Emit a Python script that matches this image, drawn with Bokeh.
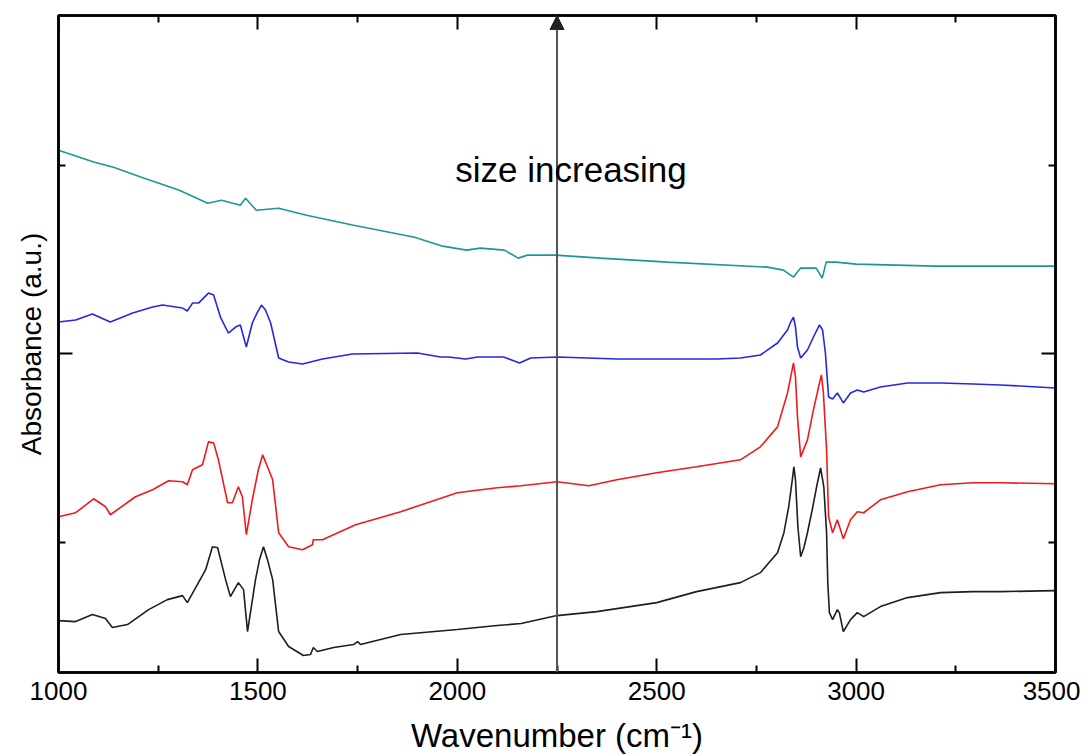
from bokeh.plotting import figure
from bokeh.models import Range1d, FixedTicker, LinearAxis, Arrow, NormalHead, CustomJSTickFormatter, Label
from bokeh.embed import file_html
from bokeh.resources import INLINE

# ---- data (wavenumber in cm^-1, absorbance in arbitrary units, offsets included) ----
wn_black = [1000, 1043, 1085, 1118, 1135, 1173, 1226, 1273, 1311, 1323, 1344, 1369, 1386, 1399, 1419,
            1431, 1451, 1464, 1474, 1494, 1504, 1514, 1524, 1537, 1552, 1577, 1614, 1632, 1639, 1649,
            1690, 1740, 1750, 1757, 1858, 2000, 2100, 2160, 2250, 2350, 2500, 2600, 2710, 2760, 2803,
            2819, 2831, 2840, 2844, 2848, 2854, 2861, 2869, 2878, 2890, 2901, 2911, 2919, 2926, 2929,
            2933, 2941, 2953, 2958, 2968, 2986, 3003, 3019, 3061, 3129, 3212, 3294, 3362, 3500]
abs_black = [0.52, 0.51, 0.58, 0.54, 0.45, 0.48, 0.63, 0.73, 0.77, 0.70, 0.85, 1.03, 1.26, 1.25, 0.93,
             0.76, 0.90, 0.83, 0.41, 0.93, 1.13, 1.26, 1.13, 0.93, 0.41, 0.26, 0.17, 0.18, 0.25, 0.21,
             0.25, 0.28, 0.31, 0.28, 0.38, 0.43, 0.47, 0.49, 0.57, 0.61, 0.70, 0.81, 0.90, 1.00, 1.20,
             1.40, 1.66, 1.93, 2.06, 1.93, 1.46, 1.16, 1.25, 1.40, 1.63, 1.86, 2.05, 1.86, 1.40, 0.90,
             0.60, 0.53, 0.63, 0.60, 0.41, 0.53, 0.60, 0.56, 0.66, 0.75, 0.80, 0.81, 0.81, 0.82]

wn_red = [1000, 1043, 1088, 1118, 1130, 1193, 1236, 1276, 1311, 1323, 1336, 1361, 1376, 1389, 1401,
          1424, 1436, 1451, 1461, 1471, 1486, 1501, 1512, 1524, 1537, 1552, 1577, 1612, 1637, 1639,
          1662, 1745, 1858, 2000, 2100, 2160, 2250, 2330, 2400, 2500, 2600, 2710, 2760, 2803, 2828,
          2836, 2843, 2848, 2853, 2861, 2878, 2893, 2906, 2913, 2918, 2926, 2931, 2941, 2953, 2968,
          2986, 3003, 3019, 3061, 3129, 3212, 3294, 3362, 3500]
abs_red = [1.56, 1.60, 1.74, 1.66, 1.58, 1.76, 1.83, 1.92, 1.91, 1.88, 2.03, 2.08, 2.31, 2.30, 2.13,
           1.70, 1.70, 1.86, 1.76, 1.38, 1.73, 2.03, 2.18, 2.06, 1.93, 1.40, 1.26, 1.23, 1.28, 1.33,
           1.33, 1.48, 1.61, 1.80, 1.85, 1.87, 1.91, 1.87, 1.93, 2.00, 2.06, 2.13, 2.26, 2.46, 2.80,
           2.96, 3.10, 2.96, 2.56, 2.16, 2.33, 2.63, 2.86, 2.98, 2.80, 2.23, 1.56, 1.40, 1.53, 1.34,
           1.53, 1.61, 1.60, 1.73, 1.81, 1.88, 1.90, 1.90, 1.89]

wn_blue = [1000, 1043, 1085, 1113, 1130, 1186, 1236, 1261, 1311, 1323, 1336, 1351, 1376, 1389, 1406,
           1426, 1444, 1456, 1471, 1486, 1499, 1509, 1519, 1532, 1552, 1577, 1612, 1662, 1737, 1900,
           1958, 1978, 2021, 2051, 2116, 2156, 2184, 2251, 2326, 2402, 2652, 2710, 2760, 2803, 2828,
           2836, 2843, 2848, 2853, 2861, 2878, 2893, 2908, 2916, 2923, 2931, 2941, 2953, 2968, 2986,
           3003, 3019, 3061, 3129, 3212, 3294, 3362, 3500]
abs_blue = [3.51, 3.53, 3.59, 3.54, 3.51, 3.60, 3.66, 3.68, 3.65, 3.62, 3.70, 3.70, 3.80, 3.78, 3.56,
            3.40, 3.46, 3.48, 3.26, 3.50, 3.61, 3.68, 3.63, 3.50, 3.15, 3.11, 3.09, 3.14, 3.19, 3.20,
            3.16, 3.16, 3.14, 3.16, 3.16, 3.10, 3.15, 3.16, 3.15, 3.14, 3.14, 3.15, 3.18, 3.30, 3.43,
            3.51, 3.56, 3.46, 3.26, 3.15, 3.23, 3.36, 3.48, 3.43, 3.20, 2.76, 2.74, 2.80, 2.70, 2.80,
            2.83, 2.81, 2.86, 2.90, 2.90, 2.89, 2.88, 2.85]

wn_teal = [1000, 1090, 1138, 1208, 1303, 1374, 1409, 1456, 1469, 1496, 1552, 1622, 1740, 1893, 1963,
           2023, 2058, 2118, 2153, 2176, 2246, 2359, 2527, 2778, 2818, 2843, 2861, 2900, 2915, 2925,
           2950, 3000, 3200, 3500]
abs_teal = [5.23, 5.11, 5.06, 4.96, 4.83, 4.70, 4.73, 4.68, 4.75, 4.63, 4.65, 4.58, 4.48, 4.36, 4.27,
            4.23, 4.25, 4.23, 4.15, 4.18, 4.18, 4.15, 4.11, 4.06, 4.03, 3.96, 4.05, 4.05, 3.95, 4.11,
            4.11, 4.09, 4.07, 4.07]

x_major = [1000, 1500, 2000, 2500, 3000, 3500]
x_minor = [1250, 1750, 2250, 2750, 3250]
y_major = [3.19]
y_minor = [1.30, 5.08]
x_limits = (1000, 3500)
y_limits = (0, 6.58)
arrow_x = 2250
note_text = "size increasing"
note_x, note_y = 1995, 5.04

FONT = "Liberation Sans"

p = figure(width=1080, height=756, x_range=Range1d(*x_limits), y_range=Range1d(*y_limits),
           output_backend="svg", toolbar_location=None,
           min_border_left=58, min_border_right=25, min_border_top=15, min_border_bottom=83)
p.grid.visible = False
p.background_fill_color = "white"
p.border_fill_color = "white"
p.outline_line_color = "black"
p.outline_line_width = 2.5

empty = CustomJSTickFormatter(code="return ''")

def style_axis(ax, ticks, minor, labels=True):
    ax.ticker = FixedTicker(ticks=ticks, minor_ticks=minor)
    ax.axis_line_color = "black"
    ax.axis_line_width = 2.5
    ax.major_tick_in = 14
    ax.major_tick_out = 0
    ax.minor_tick_in = 7
    ax.minor_tick_out = 0
    ax.major_tick_line_width = 2
    ax.minor_tick_line_width = 2
    ax.major_tick_line_color = "black"
    ax.minor_tick_line_color = "black"
    if not labels:
        ax.formatter = empty
        ax.major_label_standoff = 0
        ax.major_label_text_font_size = "1px"

xb = p.xaxis[0]
style_axis(xb, x_major, x_minor)
xb.axis_label = "Wavenumber (cm⁻¹)"
xb.axis_label_text_font = FONT
xb.axis_label_text_font_size = "33px"
xb.axis_label_text_font_style = "normal"
xb.axis_label_text_color = "black"
xb.axis_label_standoff = 14
xb.major_label_text_font = FONT
xb.major_label_text_font_size = "26px"
xb.major_label_text_color = "black"
xb.major_label_standoff = 9

yl = p.yaxis[0]
style_axis(yl, y_major, y_minor, labels=False)
yl.axis_label = "Absorbance (a.u.)"
yl.axis_label_text_font = FONT
yl.axis_label_text_font_size = "28px"
yl.axis_label_text_font_style = "normal"
yl.axis_label_text_color = "black"
yl.axis_label_standoff = 12

xt = LinearAxis()
style_axis(xt, x_major, x_minor, labels=False)
p.add_layout(xt, "above")
yr = LinearAxis()
style_axis(yr, y_major, y_minor, labels=False)
p.add_layout(yr, "right")

p.line(wn_black, abs_black, line_color="#1e1e1e", line_width=1.6)
p.line(wn_red, abs_red, line_color="#f01a1a", line_width=1.6)
p.line(wn_blue, abs_blue, line_color="#2626e6", line_width=1.6)
p.line(wn_teal, abs_teal, line_color="#1f9696", line_width=1.6)

p.add_layout(Arrow(end=NormalHead(size=14, fill_color="#222222", line_color="#222222"),
                   x_start=arrow_x, y_start=y_limits[0], x_end=arrow_x, y_end=y_limits[1],
                   line_color="#555555", line_width=2))
p.add_layout(Label(x=note_x, y=note_y, text=note_text, text_font=FONT, text_font_size="35px",
                   text_color="black", text_baseline="alphabetic"))

open("out.html", "w").write(file_html(p, INLINE))
